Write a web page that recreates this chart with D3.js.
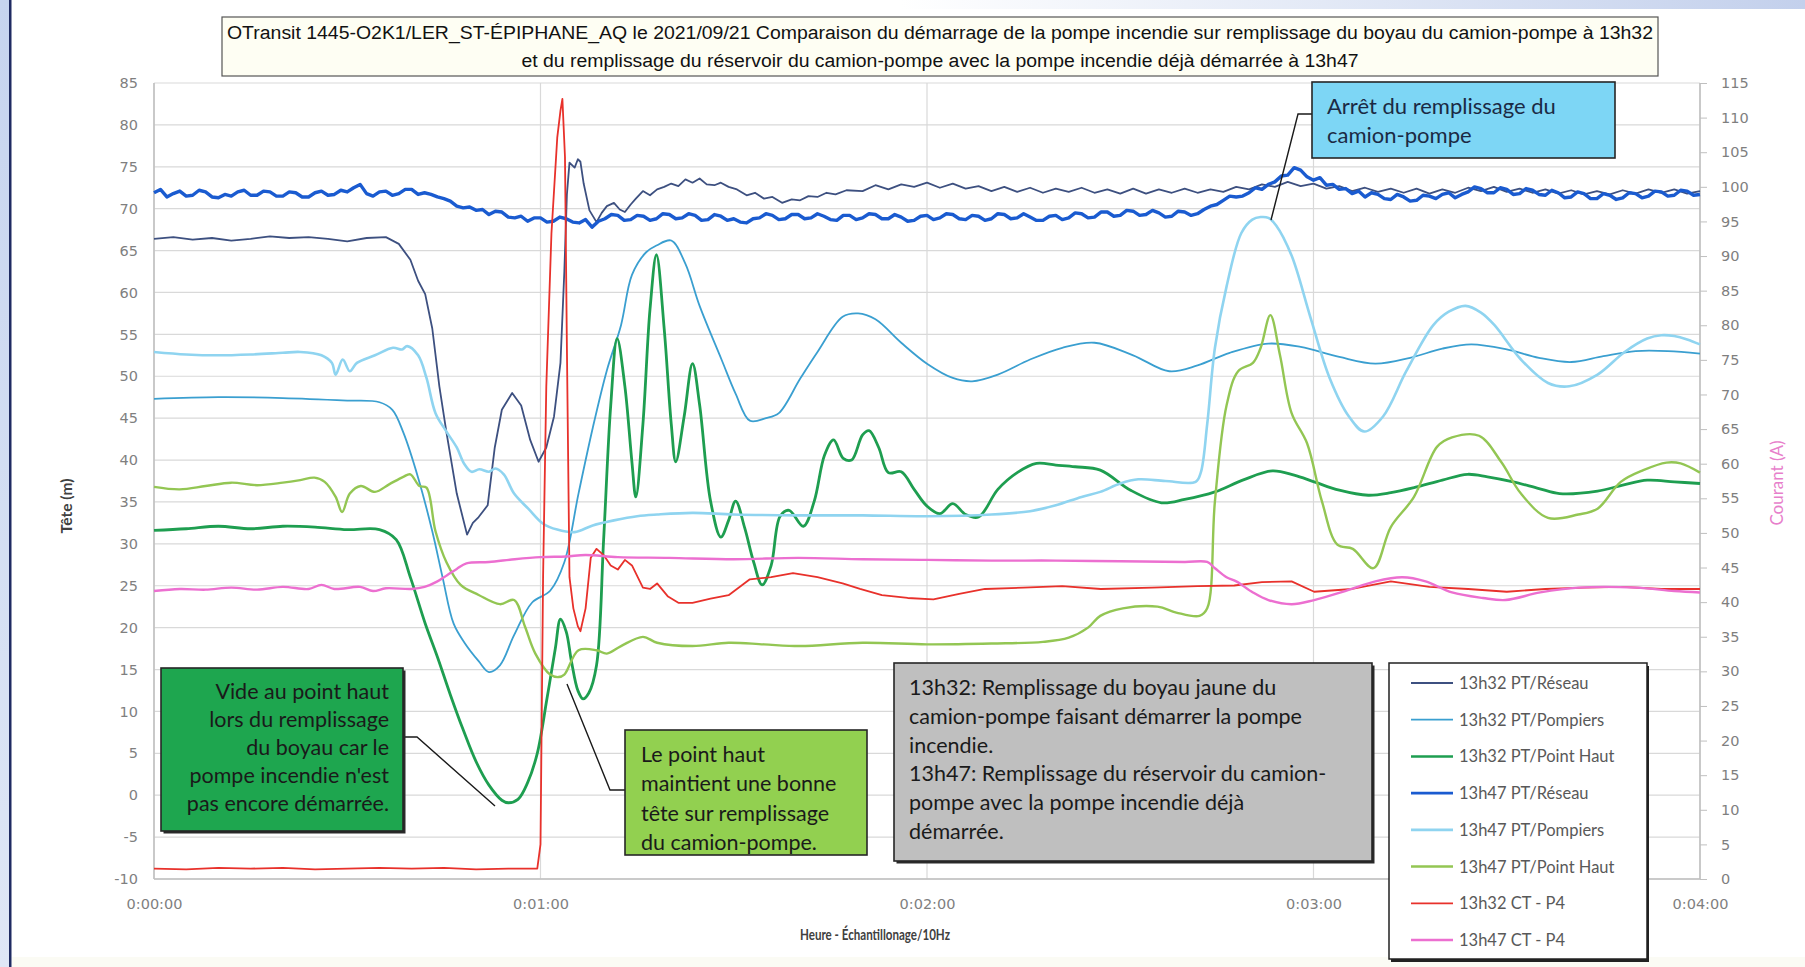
<!DOCTYPE html>
<html><head><meta charset="utf-8">
<script src="https://cdn.jsdelivr.net/npm/d3@7"></script>
<style>
html,body{margin:0;padding:0;background:#fff;}
svg{display:block;}
</style></head><body>
<svg id="chart" width="1805" height="967"></svg>
<script>
// ---- data : [seconds, value]  (PT in m, CT in A) ----
const xTicks = [0, 60, 120, 180, 240];
const yLeftTicks = d3.range(-10, 86, 5);
const yRightTicks = d3.range(0, 116, 5);

const reseau1332 = [[0,66.4],[3,66.6],[6,66.3],[9,66.5],[12,66.2],[15,66.4],[18,66.7],[21,66.5],[24,66.6],[27,66.4],[30,66.1],[33,66.5],[36,66.6],[38,65.8],[39.8,63.9],[41,61.4],[42.1,59.8],[43.2,55.7],[44.3,48.8],[45.4,43.3],[47,36.0],[48.6,31.1],[49.5,32.5],[50.4,33.2],[51.8,34.6],[52.9,41.5],[54,46.0],[55.6,48.0],[57,46.5],[58.4,42.4],[59.7,39.8],[60.9,41.5],[62.1,45.2],[63.1,51.6],[63.7,62.5],[64.1,71.7],[64.5,75.5],[65.3,74.9],[65.8,75.9],[66.2,75.6],[66.7,73.0],[67.6,69.8],[68.7,68.4],[69.5,69.5],[70.3,70.3],[71.4,70.7],[72.3,69.9],[73.1,69.6],[74,70.5],[74.8,71.2],[75.9,72.1],[77,71.6],[78.1,72.3],[79.2,72.6],[80.3,73.0],[81.4,72.7],[82.5,73.5],[83.6,73.1],[84.7,73.6],[85.8,72.9],[87,72.8],[88,73.1],[89.2,72.6],[90.5,72.3],[92,71.6],[93.3,71.9],[94.7,71.2],[96,71.4],[97.5,70.7],[99,71.1],[100.3,71.0],[101.6,71.5],[103,71.4],[104.4,71.9],[105.8,71.7],[107.5,72.2],[110,72.1],[112,72.8],[114,72.3],[116,72.9],[118,72.6],[120,73.1],[122,72.5],[124,73.0],[126,72.4],[128,72.7],[130,72.1],[132,72.6],[134,72.0],[136,72.5],[138,71.9],[140,72.4],[142,72.0],[144,72.5],[146,71.9],[148,72.3],[150,71.8],[152,72.4],[154,71.8],[156,72.3],[158,71.9],[160,72.4],[162,71.9],[164,72.3],[166,72.0],[168,72.6],[170,72.3],[172,72.9],[174,72.6],[176,73.2],[178,72.7],[180,73.0],[182,72.4],[184,72.7],[186,72.1],[188,72.5],[190,72.0],[192,72.4],[194,71.9],[196,72.4],[198,71.8],[200,72.3],[202,71.9],[204,72.5],[206,72.1],[208,72.6],[210,72.0],[212,72.4],[214,71.9],[216,72.3],[218,71.8],[220,72.2],[222,71.7],[224,72.1],[226,71.7],[228,72.2],[230,71.8],[232,72.3],[234,71.9],[236,72.3],[238,71.8],[240,72.1]];

const pompiers1332 = [[0,47.3],[10,47.5],[20,47.4],[30,47.1],[35,46.9],[37,46.0],[38.7,43.3],[41,37.9],[43.2,31.5],[44.8,26.0],[46.5,20.5],[48.2,18.2],[50.4,16.0],[52,14.7],[53.7,15.5],[55.9,19.1],[58.7,23.0],[61.5,24.4],[63.7,27.8],[65.9,36.0],[68.1,43.8],[70.3,50.7],[72.5,56.1],[74.2,62.1],[76.4,64.8],[78,65.6],[80.3,66.2],[82.5,63.4],[84.7,58.4],[88.1,52.0],[90.3,47.9],[92.5,44.7],[95,45.0],[97,45.6],[100.3,49.7],[103,52.9],[106.9,57.1],[109.3,57.5],[112,56.8],[116,54.0],[120,51.5],[124,49.8],[127,49.4],[131,50.2],[136,52.0],[141,53.4],[146,54.0],[152,52.5],[157.6,50.6],[162,51.3],[167,52.8],[173,53.9],[178,53.5],[184,52.3],[189.6,51.5],[195,52.2],[200,53.3],[204.5,53.8],[210,53.2],[215,52.2],[220,51.7],[225,52.4],[230,53.0],[235,53.0],[240,52.7]];

const pointHaut1332 = [[0,31.6],[5,31.8],[10,32.1],[15,31.8],[20,32.1],[25,32.0],[30,31.7],[35,31.7],[37.6,30.5],[39.8,26.0],[42.1,20.5],[44,16.5],[46,12.0],[48,7.8],[50,4.0],[52,1.2],[54,-0.6],[55,-0.9],[56.5,-0.5],[58,1.5],[59.5,5.0],[61,11.5],[62.3,17.5],[63.1,21.0],[64,19.5],[64.8,16.0],[65.8,12.5],[66.6,11.5],[67.5,12.2],[68.7,15.5],[69.8,30.5],[70.9,46.5],[71.9,54.5],[73.1,48.8],[74.2,39.7],[74.8,35.6],[75.9,44.3],[77,58.0],[78,64.5],[79.2,55.7],[80.3,44.3],[81,39.8],[82.3,45.2],[83.6,51.5],[84.7,46.6],[86.4,35.1],[88,30.8],[89.2,32.8],[90.3,35.1],[91.7,31.9],[93.1,27.8],[94.4,25.1],[95.8,27.4],[97.2,33.3],[98.6,34.0],[100.8,32.1],[102.5,35.1],[104.1,40.6],[105.5,42.4],[107,40.2],[108.3,40.0],[110,43.0],[111,43.5],[112.5,41.5],[114,38.5],[116,38.6],[118,36.5],[120,34.5],[122,33.6],[124,34.8],[126,33.5],[128,33.2],[131,36.5],[134,38.5],[137,39.6],[140,39.4],[143,39.2],[146.9,38.8],[151.6,36.4],[156.4,34.9],[160,35.3],[164.7,36.2],[169,37.6],[173.6,38.7],[177,38.2],[180.1,37.4],[184,36.4],[188.5,35.8],[192,36.1],[195.6,36.7],[200,37.6],[203.9,38.3],[207,38.0],[211,37.4],[215,36.6],[218.2,36.0],[224.1,36.3],[228,37.0],[231.8,37.6],[236,37.4],[240,37.2]];

// 13h47 PT/Réseau, one reading per second from 0:00:00
const reseau1347 = [71.9,72.3,71.4,71.8,72.1,71.5,71.6,72.2,72.0,71.4,71.3,71.7,71.5,72.0,72.2,71.6,71.6,72.1,72.0,71.5,
  71.5,72.0,71.9,71.4,71.4,71.9,72.1,71.6,71.7,72.2,72.0,72.5,72.9,71.8,71.5,72.0,72.1,71.6,71.8,72.3,
  72.3,71.7,71.9,71.7,71.4,71.2,70.9,70.3,70.1,70.2,69.8,69.9,69.3,69.7,69.6,69.0,68.9,69.1,68.5,68.9,
  68.9,68.4,68.5,69.0,68.8,68.4,68.3,68.7,67.8,68.5,68.8,69.3,69.2,68.6,68.7,69.2,69.1,68.6,68.8,69.4,
  69.3,68.8,68.9,69.4,69.2,68.6,68.7,69.3,69.1,68.6,68.8,68.4,68.3,68.8,68.9,69.4,69.2,68.7,68.8,69.3,
  69.3,68.8,68.9,69.4,69.1,68.7,68.6,69.2,69.2,68.7,68.9,69.4,69.3,68.8,68.8,69.3,69.0,68.5,68.6,69.1,
  69.2,68.7,68.9,69.4,69.3,68.8,68.7,69.2,69.1,68.6,68.8,69.4,69.3,68.8,68.9,69.4,69.0,68.6,68.6,69.1,
  69.2,68.7,68.9,69.5,69.4,68.9,69.0,69.6,69.6,69.1,69.2,69.8,69.7,69.2,69.3,69.8,69.5,69.0,69.1,69.7,
  69.6,69.2,69.4,69.9,70.3,70.5,71.0,71.5,71.4,71.5,71.9,72.5,72.3,72.9,73.2,73.9,74.0,74.9,74.6,73.8,
  73.4,73.7,72.8,72.9,72.3,72.4,71.8,72.1,71.4,71.9,71.7,71.2,71.1,71.7,71.4,70.9,71.0,71.6,71.5,71.2,
  71.7,71.9,71.3,71.7,72.0,72.6,72.4,71.9,71.9,72.5,72.3,71.7,71.8,72.4,72.2,71.7,71.6,72.2,71.9,71.3,
  71.4,72.0,71.8,71.2,71.2,71.8,71.6,71.1,71.3,71.9,71.8,71.3,71.5,72.1,72.0,71.5,71.6,72.2,72.1,71.6,
  71.7];

const pompiers1347 = [[0,52.9],[5,52.6],[10,52.5],[15,52.6],[20,52.8],[22.7,52.9],[26,52.5],[27.6,51.6],[28.2,50.2],[29.3,52.0],[30.4,50.6],[31.5,51.6],[34.3,52.5],[37.1,53.4],[38.5,53.2],[39.3,53.6],[41,52.5],[42.3,49.8],[43.7,45.6],[45.4,43.4],[47,41.5],[48.2,39.5],[49.3,38.6],[50.5,38.9],[52,38.6],[53,39.0],[54.3,38.3],[55.9,36.0],[58.1,34.2],[60.4,32.4],[62.6,31.7],[65.3,31.4],[68.1,32.2],[71.4,32.8],[75,33.3],[78.1,33.5],[83.6,33.7],[90,33.5],[100,33.4],[110,33.4],[120,33.3],[130,33.5],[136,33.9],[140,34.6],[144,35.6],[146.9,36.2],[150,37.2],[152.8,37.7],[157,37.5],[161.7,37.4],[162.5,38.5],[163.5,44.3],[164.7,53.4],[166.5,60.7],[168.8,67.1],[170.5,68.7],[171.8,69.0],[173,68.9],[174.2,68.0],[176.6,64.4],[179.5,57.1],[182.5,49.8],[185.5,45.2],[187.9,43.4],[190.8,45.2],[194.4,50.6],[198.6,56.1],[201,57.7],[203.6,58.4],[206,57.6],[208.1,56.1],[212.2,52.0],[216.4,49.2],[219.7,48.8],[224.1,50.2],[228.3,52.9],[231.8,54.5],[234,54.9],[236,54.8],[238,54.4],[240,53.8]];

const pointHaut1347 = [[0,36.8],[4,36.5],[8,36.9],[12,37.3],[16,37.0],[20,37.3],[22.7,37.6],[24.9,37.9],[26.5,37.4],[28.2,35.6],[29.2,33.8],[30.4,36.0],[32.1,36.9],[34.3,36.2],[36.5,37.1],[38.7,38.0],[39.8,38.3],[41.2,36.9],[42.3,36.7],[43.7,31.5],[45.4,27.8],[47.6,25.1],[50.4,23.9],[53.7,22.8],[55.9,23.3],[57.6,20.1],[59.2,16.9],[61.5,14.4],[62.8,14.1],[63.7,14.4],[65.9,17.3],[68.7,17.3],[70.3,16.9],[72.5,17.8],[75.9,18.9],[78.1,18.2],[83.6,17.8],[89.2,18.2],[94.7,18.0],[100.3,17.8],[110,18.2],[120,18.0],[130,18.1],[138,18.3],[142,18.8],[145,20.0],[146.9,21.4],[150.4,22.3],[155.8,22.5],[158.7,21.8],[162.3,21.4],[163.5,22.3],[164.7,35.1],[166.5,46.5],[168.3,50.6],[170.6,51.6],[171.8,53.4],[173.3,57.3],[174.8,52.5],[176.6,45.6],[179,42.0],[181.3,35.1],[183.7,29.9],[186.1,29.4],[189.3,27.1],[192,32.0],[195.6,35.6],[199.2,41.6],[201.5,42.7],[205.7,42.9],[209.2,39.7],[212.2,36.0],[216.4,33.1],[221.1,33.5],[224.1,34.2],[227.7,37.4],[231.2,38.8],[234.8,39.7],[237,39.6],[240,38.5]];

const ct1332 = [[0,1.5],[5,1.4],[10,1.6],[15,1.5],[20,1.6],[25,1.4],[30,1.5],[35,1.6],[40,1.5],[45,1.6],[50,1.4],[55,1.5],[59.5,1.5],[60.0,5],[60.4,43.6],[60.9,71.2],[61.7,93.3],[62.6,107.1],[63.1,111],[63.4,112.7],[63.8,104.3],[64.1,76.7],[64.5,43.6],[65.1,39.1],[65.8,36.5],[66.2,35.8],[67,39.1],[67.8,46.4],[68.7,47.7],[69.8,46.8],[70.9,45.3],[72,44.7],[73.1,46.1],[74.2,45.3],[75.9,42.1],[77,41.9],[78.1,42.7],[79.8,40.8],[81.4,39.9],[83.6,39.9],[86.4,40.5],[89.2,41.0],[92.5,43.3],[95.8,43.6],[99.2,44.2],[103,43.6],[106.9,42.7],[109.6,41.9],[113,41.0],[117,40.6],[121,40.4],[125,41.2],[129,41.9],[135,42.1],[141,42.3],[147,41.9],[155,42.1],[162,42.3],[167.7,42.4],[172,42.9],[176.6,43.0],[180.1,41.5],[186,41.9],[192,43.0],[198,42.2],[204,41.9],[210,41.5],[216,41.9],[222,42.1],[228,42.2],[234,41.9],[240,41.9]];

const ct1347 = [[0,41.6],[4,41.9],[8,41.8],[12,42.1],[16,41.8],[20,42.2],[24,41.9],[26,42.5],[28,41.9],[32,42.2],[34,41.6],[36,42.0],[40,41.9],[42,42.2],[44,43.0],[45.5,43.9],[47,44.8],[48.5,45.6],[52,45.8],[56,46.2],[60,46.5],[64,46.6],[67,46.8],[72,46.5],[80,46.4],[90,46.2],[100,46.4],[110,46.2],[120,46.1],[130,46.0],[140,46.0],[150,45.9],[160,45.8],[163.5,45.8],[164.7,44.9],[166.5,43.6],[168,43.0],[170.6,41.4],[173,40.3],[176.6,39.7],[180.1,40.3],[184.9,41.6],[189.6,43.0],[193.8,43.6],[197.4,43.0],[201.5,41.4],[206.3,40.6],[209.8,40.3],[215.2,41.4],[221.1,42.1],[230.1,42.1],[236,41.6],[240,41.4]];

const seriesNames = ['13h32 PT/Réseau','13h32 PT/Pompiers','13h32 PT/Point Haut','13h47 PT/Réseau','13h47 PT/Pompiers','13h47 PT/Point Haut','13h32 CT - P4','13h47 CT - P4'];

// ---- layout ----
const W = 1805, H = 967;
const M = {l:154, r:1700, t:83, b:879};
const svg = d3.select('#chart');

const x = d3.scaleLinear().domain([0,240]).range([M.l, M.r]);
const yL = d3.scaleLinear().domain([-10,85]).range([M.b, M.t]);
const yR = d3.scaleLinear().domain([0,115]).range([M.b, M.t]);

// frame decorations
const defs = svg.append('defs');
const gTop = defs.append('linearGradient').attr('id','gtop').attr('x1','0').attr('x2','1');
gTop.append('stop').attr('offset','0').attr('stop-color','#ffffff');
gTop.append('stop').attr('offset','1').attr('stop-color','#c3d0ec');
const gLeft = defs.append('linearGradient').attr('id','gleft').attr('x1','0').attr('x2','0').attr('y1','0').attr('y2','1');
gLeft.append('stop').attr('offset','0').attr('stop-color','#c6d4ef');
gLeft.append('stop').attr('offset','1').attr('stop-color','#dfe7f6');
svg.append('rect').attr('x',0).attr('y',0).attr('width',W).attr('height',H).attr('fill','#fff');
svg.append('rect').attr('x',900).attr('y',0).attr('width',W-900).attr('height',9).attr('fill','url(#gtop)');
svg.append('rect').attr('x',0).attr('y',0).attr('width',9).attr('height',H).attr('fill','url(#gleft)');
svg.append('rect').attr('x',9).attr('y',0).attr('width',2.5).attr('height',H).attr('fill','#1f2b62');
svg.append('rect').attr('x',12).attr('y',957).attr('width',W-12).attr('height',10).attr('fill','#fbfbf4');

// gridlines
svg.append('g').selectAll('line').data(yLeftTicks).join('line')
  .attr('x1',M.l).attr('x2',M.r).attr('y1',d=>yL(d)).attr('y2',d=>yL(d))
  .attr('stroke','#d9d9d9').attr('stroke-width',1.2);
svg.append('g').selectAll('line').data(xTicks).join('line')
  .attr('y1',M.t).attr('y2',M.b).attr('x1',d=>x(d)).attr('x2',d=>x(d))
  .attr('stroke','#d9d9d9').attr('stroke-width',1.2);
svg.append('line').attr('x1',M.l).attr('x2',M.l).attr('y1',M.t).attr('y2',M.b).attr('stroke','#bfbfbf').attr('stroke-width',1.5);
svg.append('line').attr('x1',M.r).attr('x2',M.r).attr('y1',M.t).attr('y2',M.b).attr('stroke','#bfbfbf').attr('stroke-width',1.5);
svg.append('line').attr('x1',M.l).attr('x2',M.r).attr('y1',M.b).attr('y2',M.b).attr('stroke','#bfbfbf').attr('stroke-width',1.5);

// axes
const tickFont = '"DejaVu Sans", Verdana, sans-serif';
const axL = svg.append('g').attr('transform',`translate(${M.l},0)`)
  .call(d3.axisLeft(yL).tickValues(yLeftTicks).tickSize(0).tickPadding(16).tickFormat(d=>String(d)));
const axR = svg.append('g').attr('transform',`translate(${M.r},0)`)
  .call(d3.axisRight(yR).tickValues(yRightTicks).tickSize(7).tickPadding(14).tickFormat(d=>String(d)));
const axB = svg.append('g').attr('transform',`translate(0,${M.b})`)
  .call(d3.axisBottom(x).tickValues(xTicks).tickSize(0).tickPadding(20)
    .tickFormat(d=>`0:0${d/60}:00`));
[axL,axR,axB].forEach(a=>{
  a.select('.domain').remove();
  a.selectAll('line').attr('stroke','#bfbfbf');
  a.selectAll('text').attr('font-family',tickFont).attr('font-size',14.5).attr('fill','#7f7f7f');
});

svg.append('text').attr('transform','translate(72,506) rotate(-90)').attr('text-anchor','middle')
  .attr('font-family','Lato, "Liberation Sans", sans-serif').attr('font-weight','bold').attr('font-size',15.5).attr('fill','#404040').text('Tête (m)');
svg.append('text').attr('transform','translate(1783,483) rotate(-90)').attr('text-anchor','middle')
  .attr('font-family','Lato, "Liberation Sans", sans-serif').attr('font-size',17).attr('fill','#e77fcb').text('Courant (A)');
svg.append('text').attr('x',875).attr('y',940).attr('text-anchor','middle')
  .attr('font-family','Lato, "Liberation Sans", sans-serif').attr('font-weight','bold').attr('font-size',15).attr('fill','#404040')
  .attr('textLength',150).attr('lengthAdjust','spacingAndGlyphs').text('Heure - Échantillonage/10Hz');

// series
const perSecond = v => v.map((d,i)=>[i,d]);
const series = [
  {data:reseau1332,              color:'#3d5080', w:1.8, axis:yL, curve:d3.curveLinear},
  {data:pompiers1332,            color:'#3a9fd0', w:1.8, axis:yL, curve:d3.curveCatmullRom},
  {data:pointHaut1332,           color:'#1e9e50', w:2.8, axis:yL, curve:d3.curveCatmullRom},
  {data:perSecond(reseau1347),   color:'#1a5bd0', w:3.4, axis:yL, curve:d3.curveLinear},
  {data:pompiers1347,            color:'#8fd4f0', w:2.6, axis:yL, curve:d3.curveCatmullRom},
  {data:pointHaut1347,           color:'#93c653', w:2.4, axis:yL, curve:d3.curveCatmullRom},
  {data:ct1332,                  color:'#e8312b', w:1.8, axis:yR, curve:d3.curveLinear},
  {data:ct1347,                  color:'#ec6fd0', w:2.4, axis:yR, curve:d3.curveCatmullRom}
];
const gLines = svg.append('g');
series.forEach((s,i)=>{
  const line = d3.line().x(d=>x(d[0])).y(d=>s.axis(d[1])).curve(s.curve);
  gLines.append('path').datum(s.data).attr('d',line)
    .attr('fill','none').attr('stroke',s.color).attr('stroke-width',s.w)
    .attr('stroke-linejoin','round');
});

// title box
const title = svg.append('g');
title.append('rect').attr('x',222).attr('y',17).attr('width',1436).attr('height',59)
  .attr('fill','#fefef3').attr('stroke','#555').attr('stroke-width',1.2);
const tFont = '"Liberation Sans Narrow", "Arial Narrow", "Liberation Sans", sans-serif';
title.append('text').attr('x',940).attr('y',39).attr('text-anchor','middle')
  .attr('font-family',tFont).attr('font-size',18).attr('fill','#111')
  .attr('textLength',1426).attr('lengthAdjust','spacingAndGlyphs')
  .text('OTransit 1445-O2K1/LER_ST-ÉPIPHANE_AQ le 2021/09/21 Comparaison du démarrage de la pompe incendie sur remplissage du boyau du camion-pompe à 13h32');
title.append('text').attr('x',940).attr('y',67).attr('text-anchor','middle')
  .attr('font-family',tFont).attr('font-size',18).attr('fill','#111')
  .attr('textLength',837).attr('lengthAdjust','spacingAndGlyphs')
  .text('et du remplissage du réservoir du camion-pompe avec la pompe incendie déjà démarrée à 13h47');

// annotations
const aFont = 'Lato, "Open Sans", sans-serif';
function box(x0,y0,w,h,fill,shadow){
  if(shadow) svg.append('rect').attr('x',x0+2.5).attr('y',y0+2.5).attr('width',w).attr('height',h).attr('fill','#2a2a2a');
  svg.append('rect').attr('x',x0).attr('y',y0).attr('width',w).attr('height',h)
    .attr('fill',fill).attr('stroke','#262626').attr('stroke-width',1.6);
}
function lines(xp,ys,txt,anchor,color,size){
  const t = svg.append('text').attr('font-family',aFont).attr('font-size',size||20)
    .attr('fill',color||'#1a1a1a').attr('text-anchor',anchor||'start');
  txt.forEach((s,i)=>t.append('tspan').attr('x',xp).attr('y',ys[i]).text(s));
}
function leader(pts){
  svg.append('path').attr('d',d3.line()(pts)).attr('fill','none').attr('stroke','#1a1a1a').attr('stroke-width',1.4);
}

// Arrêt du remplissage
leader([[1312,114],[1298,114],[1271,220]]);
box(1312,82,303,76,'#7dd6f5',false);
lines(1327,[114,143],['Arrêt du remplissage du','camion-pompe'],'start','#1b2a44',22);

// Vide au point haut
leader([[403,737],[417,737],[495,806]]);
box(161,668,242,163,'#1ea64f',true);
lines(389,[699,727,755,783,811],['Vide au point haut','lors du remplissage','du boyau car le','pompe incendie n\'est','pas encore démarrée.'],'end','#1a1a1a',21.5);

// Le point haut
leader([[625,790],[610,790],[567,684]]);
box(625,730,242,125,'#92d050',false);
lines(641,[762,791,821,850],['Le point haut','maintient une bonne','tête sur remplissage','du camion-pompe.'],'start','#1a1a1a',21.5);

// gray note
box(894,663,478,198,'#bfbfbf',true);
lines(909,[695,724,753,781,810,839],['13h32: Remplissage du boyau jaune du','camion-pompe faisant démarrer la pompe','incendie.','13h47: Remplissage du réservoir du camion-','pompe avec la pompe incendie déjà','démarrée.'],'start','#1a1a1a',21.5);

// legend
svg.append('rect').attr('x',1391).attr('y',666).attr('width',258).attr('height',296).attr('fill','#222');
svg.append('rect').attr('x',1389).attr('y',663).attr('width',258).attr('height',296)
  .attr('fill','#fff').attr('stroke','#222').attr('stroke-width',1.5);
const legY = d3.scaleLinear().domain([0,7]).range([683,940]);
const lg = svg.append('g').selectAll('g').data(series).join('g')
  .attr('transform',(d,i)=>`translate(0,${legY(i)})`);
lg.append('line').attr('x1',1411).attr('x2',1453).attr('y1',0).attr('y2',0)
  .attr('stroke',d=>d.color).attr('stroke-width',d=>Math.min(d.w,2.6));
lg.append('text').attr('x',1459).attr('y',6).attr('font-family',aFont).attr('font-size',16.5)
  .attr('fill','#595959').text((d,i)=>seriesNames[i]);
</script>
</body></html>
